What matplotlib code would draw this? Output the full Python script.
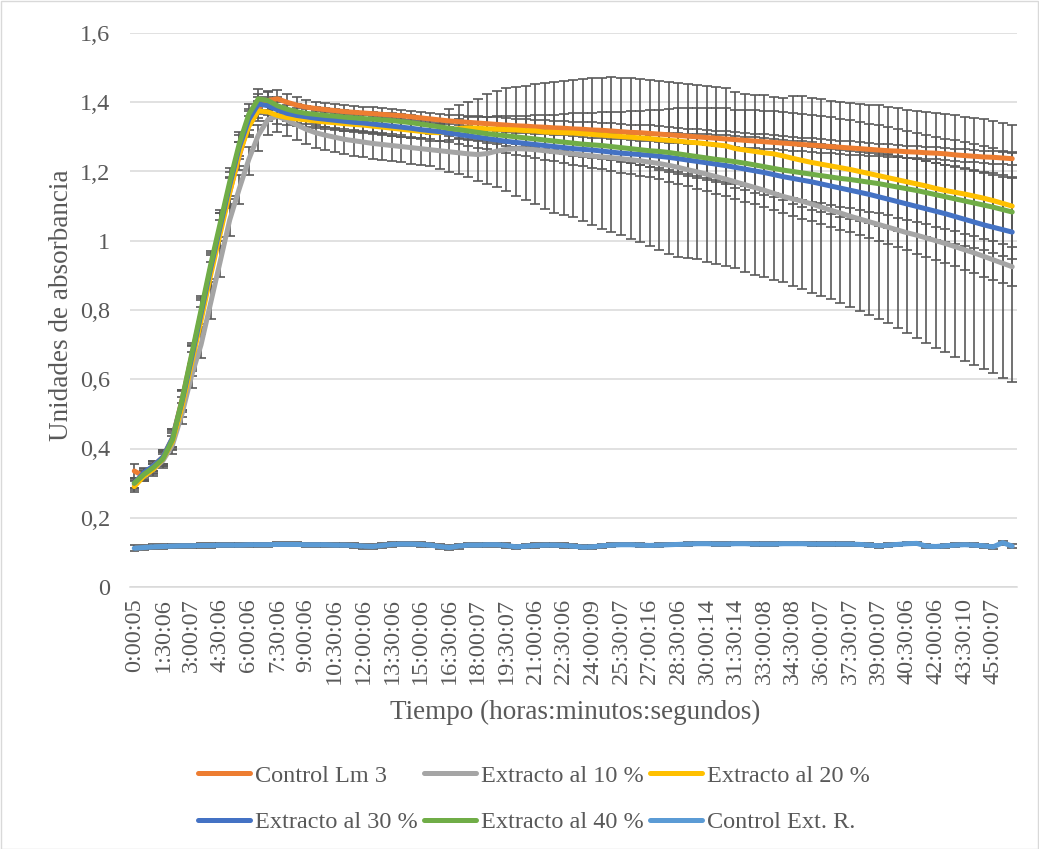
import matplotlib
matplotlib.use("Agg")
import matplotlib.pyplot as plt
from matplotlib.patches import Rectangle
import numpy as np

plt.rcParams['font.family'] = ['Liberation Serif', 'DejaVu Serif']

# Time axis labels (every third reading is labelled)
tick_labels = ["0:00:05", "1:30:06", "3:00:07", "4:30:06", "6:00:06", "7:30:06",
               "9:00:06", "10:30:06", "12:00:06", "13:30:06", "15:00:06", "16:30:06",
               "18:00:07", "19:30:07", "21:00:06", "22:30:06", "24:00:09", "25:30:07",
               "27:00:16", "28:30:06", "30:00:14", "31:30:14", "33:00:08", "34:30:08",
               "36:00:07", "37:30:07", "39:00:07", "40:30:06", "42:00:06", "43:30:10",
               "45:00:07"]
n_points = 93
label_step = 3

series_names = ["Control Lm 3", "Extracto al 10 %", "Extracto al 20 %",
                "Extracto al 30 %", "Extracto al 40 %", "Control Ext. R."]

control_lm3 = [
    0.335, 0.320, 0.350, 0.375, 0.430, 0.540, 0.665, 0.790, 0.915, 1.030, 1.140, 1.245, 1.340,
    1.385, 1.405, 1.410, 1.400, 1.392, 1.386, 1.382, 1.379, 1.376, 1.373, 1.371, 1.369, 1.367,
    1.365, 1.363, 1.361, 1.358, 1.355,
    1.352, 1.349, 1.346, 1.344, 1.342, 1.340, 1.338, 1.336, 1.334, 1.332, 1.331, 1.329, 1.328,
    1.326, 1.325, 1.323, 1.322, 1.320, 1.319, 1.317, 1.315, 1.313, 1.312, 1.310, 1.308, 1.306,
    1.304, 1.302, 1.300, 1.298, 1.296, 1.294, 1.292, 1.290, 1.288, 1.286, 1.284, 1.282, 1.280,
    1.278,
    1.276, 1.274, 1.272, 1.270, 1.268, 1.266, 1.264, 1.262, 1.260, 1.259, 1.257, 1.256, 1.254,
    1.253, 1.251, 1.248, 1.246, 1.244, 1.242, 1.241, 1.239, 1.237]

extracto_10 = [
    0.295, 0.320, 0.340, 0.365, 0.410, 0.500, 0.610, 0.700, 0.820, 0.940, 1.060, 1.150, 1.235,
    1.305, 1.350, 1.360, 1.348, 1.335, 1.322, 1.312, 1.305, 1.299, 1.293, 1.289, 1.285, 1.281,
    1.278, 1.275, 1.272, 1.269, 1.266,
    1.263, 1.260, 1.257, 1.254, 1.251, 1.249, 1.252, 1.259, 1.264, 1.266, 1.265, 1.263, 1.260,
    1.257, 1.254, 1.251, 1.248, 1.245, 1.242, 1.240, 1.237, 1.234, 1.231, 1.227, 1.223, 1.218,
    1.212, 1.205, 1.199, 1.192, 1.185, 1.178, 1.170, 1.162, 1.154, 1.146, 1.137, 1.128, 1.121,
    1.114,
    1.106, 1.097, 1.088, 1.080, 1.071, 1.063, 1.055, 1.047, 1.039, 1.031, 1.023, 1.016, 1.008,
    1.000, 0.992, 0.983, 0.974, 0.965, 0.955, 0.945, 0.935, 0.925]

extracto_20 = [
    0.290, 0.320, 0.340, 0.370, 0.420, 0.520, 0.645, 0.770, 0.900, 1.020, 1.140, 1.250, 1.330,
    1.375, 1.372, 1.362, 1.356, 1.352, 1.349, 1.346, 1.343, 1.341, 1.338, 1.336, 1.334, 1.331,
    1.328, 1.325, 1.322, 1.319, 1.316,
    1.313, 1.312, 1.318, 1.324, 1.326, 1.325, 1.323, 1.322, 1.321, 1.320, 1.318, 1.317, 1.314,
    1.313, 1.312, 1.311, 1.309, 1.307, 1.305, 1.303, 1.301, 1.299, 1.297, 1.295, 1.292, 1.290,
    1.288, 1.285, 1.283, 1.280, 1.277, 1.274, 1.266, 1.262, 1.258, 1.254, 1.251, 1.245, 1.238,
    1.232,
    1.226, 1.221, 1.216, 1.211, 1.206, 1.200, 1.194, 1.188, 1.182, 1.176, 1.170, 1.164, 1.158,
    1.151, 1.145, 1.140, 1.135, 1.129, 1.123, 1.116, 1.108, 1.100]

extracto_30 = [
    0.300, 0.330, 0.350, 0.375, 0.430, 0.535, 0.660, 0.790, 0.920, 1.040, 1.160, 1.270, 1.350,
    1.395, 1.390, 1.378, 1.368, 1.362, 1.358, 1.354, 1.351, 1.348, 1.345, 1.342, 1.340, 1.337,
    1.334, 1.331, 1.328, 1.325, 1.321,
    1.318, 1.315, 1.311, 1.307, 1.303, 1.299, 1.295, 1.291, 1.287, 1.284, 1.281, 1.278, 1.275,
    1.272, 1.269, 1.266, 1.264, 1.262, 1.259, 1.256, 1.253, 1.251, 1.249, 1.247, 1.244, 1.241,
    1.237, 1.233, 1.229, 1.225, 1.221, 1.217, 1.212, 1.207, 1.202, 1.197, 1.191, 1.185, 1.180,
    1.175,
    1.170, 1.164, 1.158, 1.152, 1.146, 1.140, 1.134, 1.127, 1.120, 1.113, 1.106, 1.099, 1.092,
    1.085, 1.078, 1.070, 1.062, 1.054, 1.046, 1.039, 1.032, 1.025]

extracto_40 = [
    0.300, 0.325, 0.345, 0.370, 0.425, 0.540, 0.670, 0.800, 0.930, 1.050, 1.170, 1.280, 1.365,
    1.410, 1.405, 1.390, 1.380, 1.373, 1.368, 1.365, 1.362, 1.360, 1.357, 1.355, 1.353, 1.351,
    1.349, 1.347, 1.344, 1.341, 1.337,
    1.333, 1.329, 1.325, 1.321, 1.317, 1.313, 1.309, 1.306, 1.303, 1.300, 1.297, 1.294, 1.291,
    1.288, 1.285, 1.282, 1.279, 1.277, 1.275, 1.272, 1.269, 1.266, 1.263, 1.260, 1.258, 1.255,
    1.251, 1.247, 1.243, 1.239, 1.235, 1.232, 1.228, 1.224, 1.219, 1.214, 1.209, 1.204, 1.200,
    1.196,
    1.192, 1.188, 1.184, 1.180, 1.177, 1.173, 1.169, 1.165, 1.160, 1.155, 1.150, 1.145, 1.139,
    1.133, 1.127, 1.121, 1.115, 1.109, 1.103, 1.097, 1.090, 1.083]

control_ext_r = [
    0.112, 0.114, 0.116, 0.117, 0.118, 0.119, 0.119, 0.120, 0.120, 0.121, 0.121,
    0.121, 0.122, 0.122, 0.122, 0.123, 0.123, 0.123, 0.122, 0.122, 0.122,
    0.121, 0.121, 0.120, 0.118, 0.117, 0.120, 0.123, 0.124, 0.124, 0.123,
    0.121, 0.117, 0.114, 0.118, 0.121, 0.121, 0.122, 0.122, 0.120, 0.116,
    0.118, 0.120, 0.121, 0.121, 0.120, 0.118, 0.115, 0.116, 0.119, 0.121,
    0.122, 0.122, 0.121, 0.120, 0.121, 0.122, 0.123, 0.124, 0.125, 0.125,
    0.124, 0.124, 0.125, 0.125, 0.124, 0.124, 0.124, 0.125, 0.125, 0.125,
    0.124, 0.124, 0.124, 0.124, 0.124, 0.123, 0.121, 0.119, 0.121, 0.123,
    0.125, 0.126, 0.118, 0.117, 0.119, 0.121, 0.122, 0.121, 0.119, 0.116, 0.128, 0.118]

# Error bar half-widths
err_lm3 = [
    0.020, 0.012, 0.015, 0.020, 0.025, 0.030, 0.035, 0.045, 0.050, 0.050, 0.045, 0.040, 0.035,
    0.030, 0.028, 0.026, 0.024, 0.022, 0.021, 0.020, 0.020, 0.019, 0.019, 0.018, 0.018, 0.018,
    0.018, 0.017, 0.017, 0.017, 0.017,
    0.017, 0.018, 0.018, 0.018, 0.019, 0.019, 0.019, 0.020, 0.020, 0.020, 0.020, 0.021, 0.021,
    0.021, 0.021, 0.021, 0.022, 0.022, 0.022, 0.022, 0.022, 0.022, 0.023, 0.023, 0.023, 0.023,
    0.023, 0.022, 0.022, 0.022, 0.022, 0.022, 0.021, 0.021, 0.021, 0.021, 0.020, 0.020, 0.020,
    0.020,
    0.020, 0.020, 0.019, 0.019, 0.019, 0.019, 0.018, 0.018, 0.018, 0.018, 0.018, 0.018, 0.018,
    0.018, 0.018, 0.018, 0.018, 0.018, 0.018, 0.018, 0.018, 0.018]

err_10_upper = [
    0.015, 0.015, 0.015, 0.020, 0.025, 0.030, 0.035, 0.040, 0.045, 0.045, 0.045, 0.040, 0.035,
    0.030, 0.028, 0.026, 0.025, 0.024, 0.024, 0.024, 0.024, 0.025, 0.025, 0.025, 0.025, 0.026,
    0.026, 0.027, 0.027, 0.028, 0.030,
    0.045, 0.075, 0.123, 0.138, 0.149, 0.161, 0.173, 0.173, 0.176, 0.179, 0.183, 0.189, 0.195,
    0.201, 0.207, 0.213, 0.219, 0.224, 0.229, 0.232, 0.234, 0.235, 0.236, 0.237, 0.238, 0.240,
    0.243, 0.247, 0.251, 0.255, 0.258, 0.262, 0.260, 0.263, 0.268, 0.274, 0.277, 0.284, 0.297,
    0.304,
    0.306, 0.311, 0.317, 0.321, 0.327, 0.333, 0.338, 0.344, 0.348, 0.352, 0.355, 0.358, 0.363,
    0.369, 0.375, 0.379, 0.384, 0.390, 0.396, 0.401, 0.405, 0.409]

err_10_lower = [
    0.015, 0.015, 0.020, 0.020, 0.025, 0.030, 0.035, 0.040, 0.045, 0.045, 0.045, 0.045, 0.045,
    0.045, 0.045, 0.045, 0.045, 0.045, 0.044, 0.044, 0.044, 0.043, 0.043, 0.043, 0.043, 0.044,
    0.044, 0.045, 0.045, 0.046, 0.047,
    0.048, 0.052, 0.057, 0.062, 0.068, 0.075, 0.088, 0.103, 0.120, 0.137, 0.148, 0.158, 0.168,
    0.177, 0.180, 0.182, 0.192, 0.200, 0.207, 0.214, 0.221, 0.228, 0.234, 0.242, 0.249, 0.255,
    0.258, 0.256, 0.253, 0.253, 0.252, 0.251, 0.249, 0.251, 0.252, 0.250, 0.249, 0.248, 0.251,
    0.254,
    0.258, 0.257, 0.256, 0.259, 0.262, 0.265, 0.268, 0.272, 0.276, 0.282, 0.290, 0.297, 0.303,
    0.309, 0.314, 0.318, 0.321, 0.323, 0.325, 0.326, 0.330, 0.333]

err_20 = [
    0.015, 0.015, 0.015, 0.020, 0.025, 0.030, 0.035, 0.040, 0.040, 0.040, 0.040, 0.035, 0.030,
    0.028, 0.026, 0.024, 0.022, 0.021, 0.020, 0.020, 0.020, 0.020, 0.020, 0.020, 0.021, 0.021,
    0.021, 0.022, 0.022, 0.022, 0.023,
    0.024, 0.025, 0.027, 0.029, 0.031, 0.033, 0.035, 0.037, 0.039, 0.041, 0.043, 0.045, 0.048,
    0.051, 0.054, 0.057, 0.060, 0.063, 0.066, 0.069, 0.072, 0.075, 0.079, 0.083, 0.087, 0.091,
    0.095, 0.098, 0.101, 0.104, 0.107, 0.110, 0.113, 0.116, 0.119, 0.122, 0.125, 0.128, 0.131,
    0.134,
    0.136, 0.138, 0.140, 0.141, 0.142, 0.143, 0.144, 0.145, 0.146, 0.147, 0.147, 0.148, 0.148,
    0.149, 0.149, 0.150, 0.150, 0.151, 0.151, 0.152, 0.152, 0.153]

err_30 = [
    0.015, 0.015, 0.015, 0.020, 0.025, 0.030, 0.035, 0.040, 0.040, 0.040, 0.040, 0.035, 0.030,
    0.028, 0.026, 0.024, 0.023, 0.022, 0.022, 0.022, 0.022, 0.022, 0.022, 0.022, 0.023, 0.023,
    0.023, 0.023, 0.024, 0.024, 0.024,
    0.025, 0.026, 0.027, 0.028, 0.029, 0.030, 0.031, 0.032, 0.033, 0.035, 0.037, 0.039, 0.041,
    0.043, 0.045, 0.047, 0.049, 0.051, 0.053, 0.055, 0.057, 0.059, 0.061, 0.064, 0.067, 0.070,
    0.073, 0.076, 0.079, 0.082, 0.085, 0.088, 0.091, 0.094, 0.097, 0.100, 0.103, 0.106, 0.109,
    0.112,
    0.114, 0.116, 0.118, 0.120, 0.122, 0.124, 0.126, 0.128, 0.130, 0.132, 0.134, 0.136, 0.138,
    0.140, 0.142, 0.144, 0.146, 0.148, 0.150, 0.152, 0.153, 0.155]

err_40 = [
    0.015, 0.015, 0.015, 0.020, 0.025, 0.030, 0.035, 0.040, 0.040, 0.040, 0.040, 0.035, 0.030,
    0.028, 0.026, 0.024, 0.022, 0.021, 0.020, 0.020, 0.020, 0.020, 0.020, 0.020, 0.020, 0.020,
    0.020, 0.021, 0.021, 0.021, 0.021,
    0.022, 0.022, 0.023, 0.024, 0.025, 0.026, 0.027, 0.028, 0.029, 0.030, 0.031, 0.032, 0.033,
    0.034, 0.035, 0.036, 0.037, 0.038, 0.039, 0.040, 0.041, 0.042, 0.044, 0.046, 0.048, 0.050,
    0.052, 0.054, 0.056, 0.058, 0.060, 0.062, 0.064, 0.066, 0.068, 0.070, 0.072, 0.074, 0.076,
    0.078,
    0.079, 0.080, 0.081, 0.082, 0.083, 0.084, 0.085, 0.086, 0.087, 0.088, 0.089, 0.090, 0.091,
    0.092, 0.093, 0.094, 0.095, 0.096, 0.097, 0.098, 0.099, 0.100]

err_ext_r = [
    0.008, 0.007, 0.007, 0.006, 0.006, 0.006, 0.006, 0.006, 0.006, 0.006, 0.006,
    0.006, 0.006, 0.006, 0.006, 0.006, 0.006, 0.006, 0.006, 0.006, 0.006,
    0.006, 0.006, 0.006, 0.007, 0.007, 0.007, 0.007, 0.007, 0.007, 0.007,
    0.006, 0.007, 0.008, 0.007, 0.006, 0.006, 0.006, 0.006, 0.006, 0.006,
    0.006, 0.006, 0.006, 0.006, 0.006, 0.006, 0.006, 0.006, 0.005, 0.005,
    0.005, 0.005, 0.005, 0.005, 0.005, 0.005, 0.005, 0.005, 0.005, 0.005,
    0.005, 0.005, 0.005, 0.005, 0.005, 0.005, 0.005, 0.005, 0.005, 0.005,
    0.005, 0.005, 0.005, 0.005, 0.005, 0.005, 0.005, 0.005, 0.005, 0.005,
    0.005, 0.005, 0.005, 0.005, 0.005, 0.005, 0.005, 0.005, 0.005, 0.005, 0.006, 0.006]

colors = ["#ED7D31", "#A5A5A5", "#FFC000", "#4472C4", "#70AD47", "#5B9BD5"]
text_color = "#595959"
grid_color = "#D9D9D9"
err_color = "#595959"

values = [control_lm3, extracto_10, extracto_20, extracto_30, extracto_40, control_ext_r]
errors = [err_lm3, [err_10_lower, err_10_upper], err_20, err_30, err_40, err_ext_r]

W, H = 1039, 849
fig = plt.figure(figsize=(W / 100, H / 100), dpi=100)
ax_left, ax_right, ax_top, ax_bottom = 129.5, 1017.0, 33.0, 587.0
ax = fig.add_axes([ax_left / W, 1 - ax_bottom / H, (ax_right - ax_left) / W,
                   (ax_bottom - ax_top) / H])

x = np.arange(n_points)

for vals, err in zip(values, errors):
    ax.errorbar(x, vals, yerr=err, fmt='none', ecolor=err_color, elinewidth=1.2,
                capsize=3.6, capthick=1.2, zorder=2)

handles = []
for vals, col, name in zip(values, colors, series_names):
    (ln,) = ax.plot(x, vals, color=col, lw=3.6, solid_capstyle='round',
                    solid_joinstyle='round', zorder=3, label=name)
    handles.append(ln)

ax.set_xlim(-0.5, n_points - 0.5)
ax.set_ylim(0, 1.6)
yt = np.arange(0, 1.61, 0.2)
ax.set_yticks(yt)
ax.set_yticklabels([("%g" % round(v, 1)).replace('.', ',') for v in yt])
ax.set_xticks(np.arange(0, n_points, label_step))
ax.set_xticklabels(tick_labels, rotation=90)

ax.grid(axis='y', color=grid_color, lw=1.1, zorder=0)
ax.set_axisbelow(True)
for side in ['left', 'right', 'top']:
    ax.spines[side].set_visible(False)
ax.spines['bottom'].set_color(grid_color)
ax.spines['bottom'].set_linewidth(1.1)
ax.tick_params(axis='both', length=0, labelsize=17.5, labelcolor=text_color)
ax.tick_params(axis='y', pad=14)
ax.tick_params(axis='x', pad=8)

fig.text(62 / W, 1 - 305 / H, "Unidades de absorbancia", rotation=90, ha='center',
         va='center', fontsize=19.5, color=text_color)
fig.text(575 / W, 1 - 712 / H, "Tiempo (horas:minutos:segundos)", ha='center',
         va='center', fontsize=19.5, color=text_color)

# legend laid out row by row (matplotlib fills columns first)
order = [0, 3, 1, 4, 2, 5]
leg = fig.legend([handles[i] for i in order], [series_names[i] for i in order],
                 ncol=3, loc='center', bbox_to_anchor=(534 / W, 1 - 799 / H),
                 frameon=False, fontsize=17.5, handlelength=2.15, handletextpad=0.2,
                 columnspacing=0.25, labelspacing=1.0, borderpad=0)
for t in leg.get_texts():
    t.set_color(text_color)

fig.add_artist(Rectangle((0.5 / W, 0.5 / H), 1 - 1.5 / W, 1 - 1.5 / H,
                         transform=fig.transFigure, fill=False, ec=grid_color, lw=1))

fig.savefig("out.png", dpi=100)
